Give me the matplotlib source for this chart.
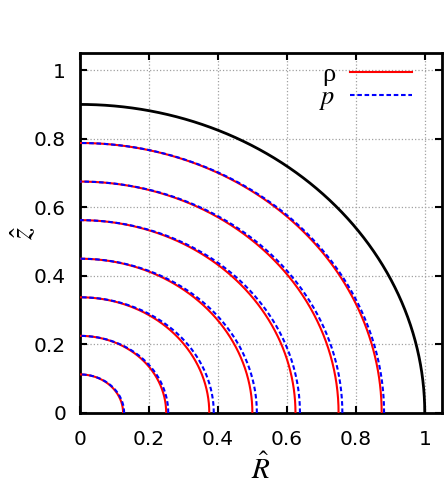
import numpy as np
import matplotlib
matplotlib.use("Agg")
import matplotlib.pyplot as plt
from matplotlib.ticker import FixedLocator

plt.rcParams['font.family'] = ['DejaVu Sans']
plt.rcParams['mathtext.fontset'] = 'stix'

# Data
# equatorial intercepts (R) and polar intercepts (z) of each contour
rho_R = [0.125, 0.25, 0.375, 0.5, 0.625, 0.75, 0.875]
rho_z = [0.1125, 0.225, 0.3375, 0.45, 0.5625, 0.675, 0.7875]
p_R = [0.128, 0.256, 0.388, 0.513, 0.638, 0.761, 0.882]
p_z = [0.1125, 0.225, 0.3375, 0.45, 0.5625, 0.675, 0.7875]
surface_R = 1.0
surface_z = 0.9
ticks = [0, 0.2, 0.4, 0.6, 0.8, 1]
tick_labels = ['0', '0.2', '0.4', '0.6', '0.8', '1']

fig = plt.figure(figsize=(4.47, 4.92), dpi=100)
ax = fig.add_axes([80/447, 1-413/492, 362/447, 360/492])

t = np.linspace(0, np.pi/2, 300)
ax.plot(surface_R*np.cos(t), surface_z*np.sin(t), color='black', lw=2.0, zorder=3)
for i, (a, b) in enumerate(zip(rho_R, rho_z)):
    ax.plot(a*np.cos(t), b*np.sin(t), color='#ff0000', lw=1.5, zorder=4,
            label='ρ' if i == 0 else None)
for i, (a, b) in enumerate(zip(p_R, p_z)):
    ax.plot(a*np.cos(t), b*np.sin(t), color='#0000ff', lw=1.5, ls=(0, (2.2, 1.3)),
            zorder=5, label='$p$' if i == 0 else None)

ax.set_xlim(0, 1.05)
ax.set_ylim(0, 1.05)
ax.xaxis.set_major_locator(FixedLocator(ticks))
ax.yaxis.set_major_locator(FixedLocator(ticks))
ax.set_xticklabels(tick_labels)
ax.set_yticklabels(tick_labels)
ax.tick_params(direction='in', top=True, right=True, length=5, width=1.5,
               labelsize=14.5)
ax.tick_params(axis='x', pad=12)
ax.tick_params(axis='y', pad=10)
for s in ax.spines.values():
    s.set_linewidth(2.0)
ax.grid(True, color='#a0a0a0', ls=':', lw=0.9)
ax.set_axisbelow(True)

ax.set_xlabel(r'$\hat{R}$', fontsize=21, labelpad=4)
ax.set_ylabel(r'$\hat{z}$', fontsize=22, labelpad=-4)

leg = ax.legend(loc='upper right', bbox_to_anchor=(0.924, 0.98),
                frameon=False, markerfirst=False,
                handlelength=2.35, labelspacing=-0.015,
                borderaxespad=0.0, handletextpad=0.55, borderpad=0.1,
                prop={'family': 'Liberation Serif', 'size': 19})
for txt in leg.get_texts():
    txt.set_ha('right')

fig.savefig('out.png', dpi=100)
